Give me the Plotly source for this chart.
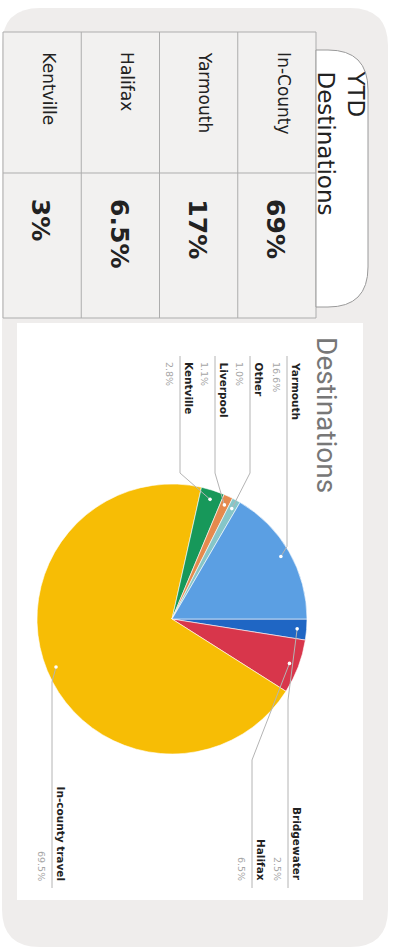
import math
import plotly.graph_objects as go

W, H = 393, 951

# ---------------- data ----------------
table_labels = ["In-County", "Yarmouth", "Halifax", "Kentville"]
table_values = ["69%", "17%", "6.5%", "3%"]

slice_labels = ["Bridgewater", "Halifax", "In-county travel", "Kentville",
                "Liverpool", "Other", "Yarmouth"]
slice_values = [2.5, 6.5, 69.5, 2.8, 1.1, 1.0, 16.6]
slice_pct_text = ["2.5%", "6.5%", "69.5%", "2.8%", "1.1%", "1.0%", "16.6%"]

# ---------------- styles / layout ----------------
slice_colors = ["#1f66c4", "#d8364b", "#f7bd05", "#17985a",
                "#e58a4e", "#86c6c8", "#5b9fe3"]
FONT = "DejaVu Sans"
card_color = "#efedec"
grid_color = "#adadad"

# pie geometry (pixels)
PCX, PCY, PR = 172, 619, 135

# label layout: (line_x, side, bend_y)  side 'top' labels start at y=360, 'bottom' end at y=883
label_layout = {
    "Yarmouth": (287, "top", None),
    "Other": (250, "top", 473),
    "Liverpool": (215, "top", 473),
    "Kentville": (180, "top", 473),
    "Bridgewater": (288, "bottom", 700),
    "Halifax": (252, "bottom", 760),
    "In-county travel": (52, "bottom", 682),
}

fig = go.Figure()

# invisible trace to create the pixel-coordinate cartesian frame
fig.add_trace(go.Scatter(x=[0, W], y=[0, H], mode="markers",
                         marker=dict(opacity=0), hoverinfo="skip", showlegend=False))

shapes = []
annotations = []

def rounded_rect(x0, y0, x1, y1, r):
    return (f"M {x0+r},{y0} L {x1-r},{y0} Q {x1},{y0} {x1},{y0+r} "
            f"L {x1},{y1-r} Q {x1},{y1} {x1-r},{y1} L {x0+r},{y1} "
            f"Q {x0},{y1} {x0},{y1-r} L {x0},{y0+r} Q {x0},{y0} {x0+r},{y0} Z")

# outer card
shapes.append(dict(type="path", path=rounded_rect(2, 8, 388, 947, 38),
                   fillcolor=card_color, line=dict(width=0), layer="below"))

# white pie panel
shapes.append(dict(type="rect", x0=17, x1=363, y0=323, y1=900,
                   fillcolor="white", line=dict(width=0), layer="below"))

# table
t_left, t_right, t_top, t_mid, t_bot = 3, 316, 32, 173, 318
shapes.append(dict(type="rect", x0=t_left, x1=t_right, y0=t_top, y1=t_bot,
                   fillcolor="#f2f1f0", line=dict(color=grid_color, width=1), layer="below"))
shapes.append(dict(type="line", x0=t_left, x1=t_right, y0=t_mid, y1=t_mid,
                   line=dict(color=grid_color, width=1), layer="below"))
n = len(table_labels)
cw = (t_right - t_left) / n
for i in range(1, n):
    x = t_left + i * cw
    shapes.append(dict(type="line", x0=x, x1=x, y0=t_top, y1=t_bot,
                       line=dict(color=grid_color, width=1), layer="below"))

for i, (lab, val) in enumerate(zip(table_labels, table_values)):
    cx = t_right - (i + 0.5) * cw
    annotations.append(dict(x=cx + 7, y=50, text=lab, textangle=90, showarrow=False,
                            xanchor="center", yanchor="top",
                            font=dict(family=FONT, size=17, color="#222")))
    annotations.append(dict(x=cx - 1, y=197, text=f"<b>{val}</b>", textangle=90, showarrow=False,
                            xanchor="center", yanchor="top",
                            font=dict(family=FONT, size=25, color="#222")))

# pill header
px0, px1, py0, py1, pr = 316, 368, 50, 307, 40
pill = (f"M {px0},{py0} L {px1-pr},{py0} Q {px1},{py0} {px1},{py0+pr} "
        f"L {px1},{py1-pr} Q {px1},{py1} {px1-pr},{py1} L {px0},{py1} Z")
shapes.append(dict(type="path", path=pill, fillcolor="white",
                   line=dict(color="#9a9a9a", width=1), layer="below"))
annotations.append(dict(x=341, y=68, text="YTD<br>Destinations", textangle=90, showarrow=False,
                        xanchor="center", yanchor="top", align="left",
                        font=dict(family=FONT, size=23, color="#222")))

# pie title
annotations.append(dict(x=327, y=335, text="Destinations", textangle=90, showarrow=False,
                        xanchor="center", yanchor="top",
                        font=dict(family="Roboto", size=28, color="#777")))

# pie
fig.add_trace(go.Pie(
    labels=slice_labels, values=slice_values, sort=False,
    direction="clockwise", rotation=90,
    marker=dict(colors=slice_colors, line=dict(color="white", width=0.6)),
    textinfo="none", hoverinfo="skip", showlegend=False,
    domain=dict(x=[(PCX - PR) / W, (PCX + PR) / W],
                y=[1 - (PCY + PR) / H, 1 - (PCY - PR) / H]),
))

# leader lines, anchor dots and labels (anchors computed from data)
total = sum(slice_values)
cum = 0.0
for lab, v, pct in zip(slice_labels, slice_values, slice_pct_text):
    mid = (cum + v / 2) / total
    cum += v
    th = 2 * math.pi * mid  # clockwise from 3 o'clock in screen coords
    ax = PCX + 0.93 * PR * math.cos(th)
    ay = PCY + 0.93 * PR * math.sin(th)
    lx, side, bend = label_layout[lab]
    if side == "top":
        by = bend if bend is not None else ay - 10
        path = f"M {lx},356 L {lx},{by} L {ax},{ay}"
        ty, yanc = 360, "top"
    else:
        path = f"M {ax},{ay} L {lx},{bend} L {lx},888"
        ty, yanc = 883, "bottom"
    shapes.append(dict(type="path", path=path, line=dict(color="#b4b4b4", width=1), layer="above"))
    shapes.append(dict(type="circle", x0=ax - 1.8, x1=ax + 1.8, y0=ay - 1.8, y1=ay + 1.8,
                       fillcolor="white", line=dict(width=0), layer="above"))
    annotations.append(dict(x=lx + 9, y=ty, text=f"<b>{lab}</b>", textangle=90, showarrow=False,
                            xanchor="center", yanchor=yanc,
                            font=dict(family=FONT, size=10.5, color="#222")))
    annotations.append(dict(x=lx - 10, y=ty, text=pct, textangle=90, showarrow=False,
                            xanchor="center", yanchor=yanc,
                            font=dict(family=FONT, size=9.5, color="#a5a5a5")))

fig.update_layout(
    width=W, height=H, margin=dict(l=0, r=0, t=0, b=0),
    paper_bgcolor="white", plot_bgcolor="rgba(0,0,0,0)",
    xaxis=dict(range=[0, W], visible=False, fixedrange=True),
    yaxis=dict(range=[H, 0], visible=False, fixedrange=True),
    shapes=shapes, annotations=annotations, hovermode=False,
)

fig.write_html("out.html", config=dict(displayModeBar=False))
